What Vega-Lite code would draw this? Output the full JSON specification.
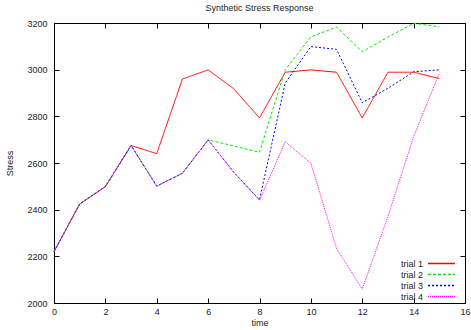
{
  "$schema": "https://vega.github.io/schema/vega-lite/v6.json",
  "width": 411,
  "height": 280,
  "autosize": {"type": "none"},
  "padding": {"left": 54, "top": 23, "right": 6, "bottom": 27},
  "background": "white",
  "title": {"text": "Synthetic Stress Response", "fontSize": 9, "font": "Liberation Sans", "fontWeight": "normal", "color": "#222", "offset": 6},
  "config": {
    "view": {"stroke": "black", "strokeWidth": 1},
    "axis": {"grid": false, "domain": false, "ticks": true, "offset": -5, "tickColor": "black", "tickWidth": 1, "tickSize": 5, "tickOpacity": 1, "zindex": 1, "labelFlush": false, "labelFont": "Liberation Sans", "labelFontSize": 9, "labelColor": "#222", "titleFont": "Liberation Sans", "titleFontSize": 9, "titleFontWeight": "normal", "titleColor": "#222"}
  },
  "data": {"values": [
    {"t":0,"s":2220,"trial":"trial 1"},{"t":1,"s":2424,"trial":"trial 1"},{"t":2,"s":2499,"trial":"trial 1"},{"t":3,"s":2675,"trial":"trial 1"},{"t":4,"s":2640,"trial":"trial 1"},{"t":5,"s":2960,"trial":"trial 1"},{"t":6,"s":2999,"trial":"trial 1"},{"t":7,"s":2918,"trial":"trial 1"},{"t":8,"s":2793,"trial":"trial 1"},{"t":9,"s":2989,"trial":"trial 1"},{"t":10,"s":2999,"trial":"trial 1"},{"t":11,"s":2989,"trial":"trial 1"},{"t":12,"s":2793,"trial":"trial 1"},{"t":13,"s":2989,"trial":"trial 1"},{"t":14,"s":2989,"trial":"trial 1"},{"t":15,"s":2962,"trial":"trial 1"},
    {"t":0,"s":2220,"trial":"trial 2"},{"t":1,"s":2424,"trial":"trial 2"},{"t":2,"s":2499,"trial":"trial 2"},{"t":3,"s":2675,"trial":"trial 2"},{"t":4,"s":2501,"trial":"trial 2"},{"t":5,"s":2556,"trial":"trial 2"},{"t":6,"s":2699,"trial":"trial 2"},{"t":7,"s":2673,"trial":"trial 2"},{"t":8,"s":2646,"trial":"trial 2"},{"t":9,"s":2999,"trial":"trial 2"},{"t":10,"s":3141,"trial":"trial 2"},{"t":11,"s":3182,"trial":"trial 2"},{"t":12,"s":3077,"trial":"trial 2"},{"t":13,"s":3140,"trial":"trial 2"},{"t":14,"s":3199,"trial":"trial 2"},{"t":15,"s":3184,"trial":"trial 2"},
    {"t":0,"s":2220,"trial":"trial 3"},{"t":1,"s":2424,"trial":"trial 3"},{"t":2,"s":2499,"trial":"trial 3"},{"t":3,"s":2675,"trial":"trial 3"},{"t":4,"s":2501,"trial":"trial 3"},{"t":5,"s":2556,"trial":"trial 3"},{"t":6,"s":2699,"trial":"trial 3"},{"t":7,"s":2560,"trial":"trial 3"},{"t":8,"s":2442,"trial":"trial 3"},{"t":9,"s":2942,"trial":"trial 3"},{"t":10,"s":3099,"trial":"trial 3"},{"t":11,"s":3087,"trial":"trial 3"},{"t":12,"s":2858,"trial":"trial 3"},{"t":13,"s":2920,"trial":"trial 3"},{"t":14,"s":2991,"trial":"trial 3"},{"t":15,"s":2999,"trial":"trial 3"},
    {"t":0,"s":2220,"trial":"trial 4"},{"t":1,"s":2424,"trial":"trial 4"},{"t":2,"s":2499,"trial":"trial 4"},{"t":3,"s":2675,"trial":"trial 4"},{"t":4,"s":2501,"trial":"trial 4"},{"t":5,"s":2556,"trial":"trial 4"},{"t":6,"s":2699,"trial":"trial 4"},{"t":7,"s":2560,"trial":"trial 4"},{"t":8,"s":2440,"trial":"trial 4"},{"t":9,"s":2691,"trial":"trial 4"},{"t":10,"s":2599,"trial":"trial 4"},{"t":11,"s":2234,"trial":"trial 4"},{"t":12,"s":2059,"trial":"trial 4"},{"t":13,"s":2371,"trial":"trial 4"},{"t":14,"s":2713,"trial":"trial 4"},{"t":15,"s":2985,"trial":"trial 4"}
  ]},
  "resolve": {"axis": {"x": "independent", "y": "independent"}},
  "layer": [
    {
      "mark": {"type": "line", "strokeWidth": 1},
      "encoding": {
        "x": {"field": "t", "type": "quantitative", "scale": {"domain": [0, 16], "nice": false, "zero": false},
              "axis": {"orient": "bottom", "title": "time", "values": [0,2,4,6,8,10,12,14,16], "format": "d", "labelPadding": 4, "titlePadding": 2}},
        "y": {"field": "s", "type": "quantitative", "scale": {"domain": [2000, 3200], "nice": false, "zero": false},
              "axis": {"orient": "left", "title": "Stress", "values": [2000,2200,2400,2600,2800,3000,3200], "format": "d", "labelPadding": 7, "titlePadding": 12}},
        "color": {"field": "trial", "type": "nominal",
                  "scale": {"domain": ["trial 1","trial 2","trial 3","trial 4"], "range": ["#ff0000","#00ee00","#0000ff","#ff00ff"]},
                  "legend": {"title": null, "orient": "none", "legendX": 382, "legendY": 235, "symbolType": "M-3,0H3", "symbolSize": 81, "symbolStrokeWidth": 1.3, "labelAlign": "right", "labelOffset": -24, "labelFont": "Liberation Sans", "labelFontSize": 9, "labelColor": "#222", "rowPadding": 0, "padding": 0,
                             "encode": {"symbols": {"update": {"strokeDash": {"scale": "strokeDash", "field": "value"}, "fill": {"value": "transparent"}, "stroke": {"scale": "color", "field": "value"}}}}}},
        "strokeDash": {"field": "trial", "type": "nominal",
                  "scale": {"domain": ["trial 1","trial 2","trial 3","trial 4"], "range": [[1,0],[3,2],[2,2],[1,1]]},
                  "legend": null}
      }
    },
    {
      "mark": {"type": "line", "opacity": 0},
      "encoding": {
        "x": {"field": "t", "type": "quantitative", "axis": {"orient": "top", "title": null, "labels": false, "values": [0,2,4,6,8,10,12,14,16]}},
        "y": {"field": "s", "type": "quantitative", "axis": {"orient": "right", "title": null, "labels": false, "values": [2000,2200,2400,2600,2800,3000,3200]}},
        "detail": {"field": "trial"}
      }
    }
  ]
}
